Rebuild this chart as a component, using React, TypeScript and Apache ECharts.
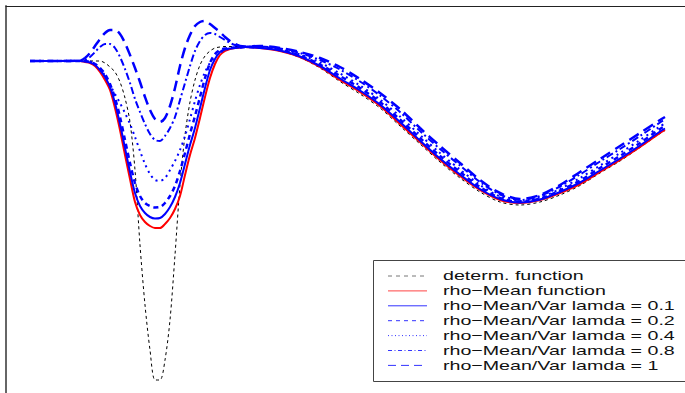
import React, { useEffect, useRef } from "react";
import * as echarts from "echarts";

// x positions (abstract units)
const xValues = [
  0, 0.5, 1.0,
  1.1, 1.2, 1.3, 1.4, 1.5, 1.6, 1.7, 1.8, 1.9, 2.0, 2.1, 2.2, 2.3, 2.4, 2.5, 2.6, 2.7,
  2.8, 2.9, 3.0, 3.1, 3.2, 3.3, 3.4, 3.5, 3.6, 3.7, 3.8, 3.9, 4.0, 4.1, 4.2, 4.3,
  4.6, 5.0, 5.4, 5.8, 6.2, 6.6, 7.0, 7.4, 7.8, 8.2, 8.6, 9.0, 9.4, 9.8, 10.2, 10.6,
  11.0, 11.4, 11.8, 12.2, 12.6, 12.7,
];

const determ = [
  1.42, 1.42, 1.42,
  1.42, 1.42, 1.42, 1.42, 1.40, 1.36, 1.31, 1.21, 1.05, 0.81, 0.33, -0.42, -1.02, -1.47, -1.77, -1.77, -1.57,
  -1.17, -0.52, 0.18, 0.68, 1.01, 1.23, 1.38, 1.47, 1.52, 1.55, 1.56, 1.565, 1.565, 1.565, 1.565, 1.565,
  1.555, 1.52, 1.455, 1.35, 1.215, 1.09, 0.95, 0.77, 0.59, 0.41, 0.25, 0.11, 0.01, -0.02, 0.01, 0.08,
  0.175, 0.30, 0.42, 0.555, 0.695, 0.725,
];

const rhoMean = [
  1.42, 1.42, 1.42,
  1.41, 1.40, 1.37, 1.31, 1.23, 1.13, 0.95, 0.73, 0.48, 0.24, 0.01, -0.12, -0.19, -0.23, -0.25, -0.25, -0.21,
  -0.15, -0.06, 0.07, 0.28, 0.48, 0.65, 0.85, 1.06, 1.25, 1.39, 1.48, 1.52, 1.54, 1.55, 1.555, 1.56,
  1.55, 1.52, 1.46, 1.36, 1.23, 1.11, 0.97, 0.79, 0.61, 0.43, 0.27, 0.13, 0.03, 0.00, 0.03, 0.10,
  0.19, 0.31, 0.43, 0.56, 0.70, 0.73,
];

const lamda01 = [
  1.42, 1.42, 1.42,
  1.415, 1.405, 1.38, 1.33, 1.26, 1.16, 1.00, 0.79, 0.55, 0.31, 0.10, -0.03, -0.10, -0.14, -0.155, -0.15, -0.11,
  -0.04, 0.06, 0.20, 0.39, 0.58, 0.75, 0.95, 1.15, 1.33, 1.44, 1.51, 1.535, 1.545, 1.55, 1.555, 1.56,
  1.55, 1.525, 1.465, 1.37, 1.245, 1.125, 0.985, 0.81, 0.625, 0.445, 0.285, 0.14, 0.04, 0.005, 0.035, 0.11,
  0.205, 0.325, 0.445, 0.575, 0.715, 0.745,
];

const lamda02 = [
  1.42, 1.42, 1.42,
  1.42, 1.41, 1.39, 1.35, 1.29, 1.19, 1.05, 0.86, 0.63, 0.40, 0.20, 0.07, 0.00, -0.03, -0.045, -0.04, 0.00,
  0.07, 0.17, 0.32, 0.50, 0.69, 0.87, 1.06, 1.25, 1.40, 1.49, 1.53, 1.545, 1.55, 1.555, 1.555, 1.56,
  1.555, 1.53, 1.475, 1.385, 1.27, 1.15, 1.01, 0.835, 0.65, 0.47, 0.31, 0.16, 0.05, 0.01, 0.045, 0.125,
  0.225, 0.35, 0.47, 0.60, 0.74, 0.77,
];

const lamda04 = [
  1.42, 1.42, 1.42,
  1.42, 1.415, 1.39, 1.35, 1.27, 1.18, 1.09, 1.00, 0.90, 0.79, 0.66, 0.52, 0.39, 0.29, 0.23, 0.22, 0.25,
  0.33, 0.42, 0.53, 0.67, 0.84, 1.02, 1.18, 1.31, 1.40, 1.46, 1.50, 1.53, 1.545, 1.555, 1.56, 1.56,
  1.56, 1.535, 1.485, 1.405, 1.295, 1.175, 1.035, 0.865, 0.68, 0.50, 0.335, 0.18, 0.065, 0.02, 0.055, 0.14,
  0.25, 0.375, 0.50, 0.63, 0.765, 0.795,
];

const lamda08 = [
  1.42, 1.42, 1.425,
  1.43, 1.46, 1.51, 1.56, 1.59, 1.59, 1.55, 1.46, 1.34, 1.20, 1.04, 0.91, 0.79, 0.69, 0.63, 0.62, 0.67,
  0.75, 0.86, 1.03, 1.20, 1.37, 1.52, 1.62, 1.68, 1.70, 1.69, 1.66, 1.63, 1.60, 1.58, 1.57, 1.565,
  1.565, 1.545, 1.50, 1.43, 1.335, 1.215, 1.075, 0.91, 0.72, 0.54, 0.375, 0.21, 0.085, 0.03, 0.07, 0.165,
  0.285, 0.415, 0.54, 0.67, 0.805, 0.835,
];

const lamda1 = [
  1.42, 1.42, 1.425,
  1.45, 1.50, 1.57, 1.64, 1.70, 1.73, 1.73, 1.69, 1.60, 1.48, 1.35, 1.21, 1.06, 0.93, 0.84, 0.81, 0.85,
  0.97, 1.15, 1.37, 1.55, 1.68, 1.77, 1.81, 1.82, 1.79, 1.75, 1.71, 1.66, 1.62, 1.59, 1.57, 1.565,
  1.57, 1.55, 1.51, 1.45, 1.36, 1.24, 1.10, 0.94, 0.75, 0.57, 0.40, 0.23, 0.10, 0.04, 0.08, 0.18,
  0.31, 0.44, 0.57, 0.70, 0.83, 0.86,
];

const legendLabels = [
  "determ. function",
  "rho\u2212Mean function",
  "rho\u2212Mean/Var lamda = 0.1",
  "rho\u2212Mean/Var lamda = 0.2",
  "rho\u2212Mean/Var lamda = 0.4",
  "rho\u2212Mean/Var lamda = 0.8",
  "rho\u2212Mean/Var lamda = 1",
];

export default function App() {
  const ref = useRef<HTMLDivElement>(null);

  useEffect(() => {
    if (!ref.current) return;
    const chart = echarts.init(ref.current, null, { renderer: "svg" });

    const defs = [
      { data: determ, color: "#000000", width: 1, dash: [3, 3] as any, legendColor: "#777777", legendDash: [4, 4] },
      { data: rhoMean, color: "#ff0000", width: 2, dash: "solid" as any, legendColor: "#ff4444", legendDash: null },
      { data: lamda01, color: "#0000ff", width: 2, dash: "solid" as any, legendColor: "#3333ff", legendDash: null },
      { data: lamda02, color: "#0000ff", width: 2.5, dash: [5, 4] as any, legendColor: "#3333ff", legendDash: [4, 4] },
      { data: lamda04, color: "#0000ff", width: 2, dash: [2, 4] as any, legendColor: "#3333ff", legendDash: [1, 2.5] },
      { data: lamda08, color: "#0000ff", width: 2, dash: [7, 3, 2, 3] as any, legendColor: "#3333ff", legendDash: [4, 2.5, 1, 2.5] },
      { data: lamda1, color: "#0000ff", width: 2.5, dash: [11, 6] as any, legendColor: "#3333ff", legendDash: [8, 5] },
    ];

    const series = defs.map((d, i) => ({
      name: legendLabels[i],
      type: "line",
      data: xValues.map((x, j) => [x, d.data[j]]),
      showSymbol: false,
      smooth: 0.3,
      lineStyle: { color: d.color, width: d.width, type: d.dash },
      itemStyle: { color: d.color },
      z: 2 + i,
    }));

    const rowY0 = 276;
    const rowStep = 14.9;
    const legendChildren: any[] = [
      {
        type: "rect",
        shape: { x: 373.5, y: 260.5, width: 330, height: 121 },
        style: { fill: "#ffffff", stroke: "#444444", lineWidth: 1 },
      },
    ];
    defs.forEach((d, i) => {
      const y = rowY0 + i * rowStep;
      legendChildren.push({
        type: "line",
        shape: { x1: 388, y1: y, x2: 427, y2: y },
        style: {
          stroke: d.legendColor,
          lineWidth: 1,
          lineDash: d.legendDash || undefined,
        },
      });
      legendChildren.push({
        type: "text",
        x: 443,
        y: y,
        scaleX: 1.51,
        style: {
          text: legendLabels[i],
          fontSize: 13,
          fontFamily: "Liberation Sans, Arial, sans-serif",
          fill: "#111111",
          verticalAlign: "middle",
          align: "left",
        },
      });
    });

    chart.setOption({
      animation: false,
      backgroundColor: "#ffffff",
      grid: { left: 6, top: 6, right: 0, bottom: 0, containLabel: false },
      xAxis: {
        type: "value",
        min: -0.48,
        max: 13.1,
        position: "top",
        axisLine: { show: true, onZero: false, lineStyle: { color: "#222222", width: 1 } },
        axisTick: { show: false },
        axisLabel: { show: false },
        splitLine: { show: false },
      },
      yAxis: {
        type: "value",
        min: -1.9,
        max: 1.97,
        axisLine: { show: true, onZero: false, lineStyle: { color: "#666666", width: 2 } },
        axisTick: { show: false },
        axisLabel: { show: false },
        splitLine: { show: false },
      },
      series,
      graphic: [
        {
          type: "group",
          z: 100,
          children: legendChildren,
        },
      ],
    });

    return () => chart.dispose();
  }, []);

  return (
    <div
      ref={ref}
      style={{ position: "fixed", left: 0, top: 0, width: 685, height: 393, background: "#fff" }}
    />
  );
}
